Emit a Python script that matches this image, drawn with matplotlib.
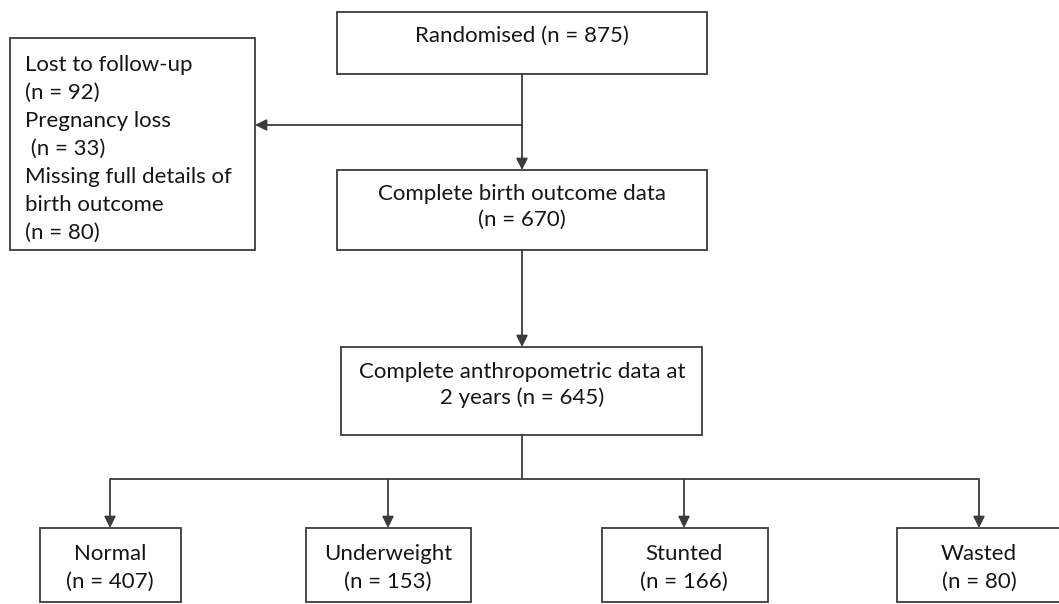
import matplotlib
matplotlib.use('Agg')
import matplotlib.pyplot as plt
from matplotlib.patches import Rectangle

# ── Data ──────────────────────────────────────────────────────────────────────
stage_labels = ['Randomised', 'Complete birth outcome data',
                'Complete anthropometric data at\n2 years']
stage_n = [875, 670, 645]

excluded_labels = ['Lost to follow-up', 'Pregnancy loss',
                   'Missing full details of\nbirth outcome']
excluded_n = [92, 33, 80]

outcome_labels = ['Normal', 'Underweight', 'Stunted', 'Wasted']
outcome_n = [407, 153, 166, 80]

# ── Style ─────────────────────────────────────────────────────────────────────
W, H = 1059, 604
DPI = 100
LINE = '#3c3c3c'
TEXT = '#161616'
FONT = 'Lato'
FS = 16

fig = plt.figure(figsize=(W / DPI, H / DPI), dpi=DPI)
ax = fig.add_axes([0, 0, 1, 1])
ax.set_xlim(0, W)
ax.set_ylim(H, 0)
ax.axis('off')


def box(x0, y0, x1, y1):
    ax.add_patch(Rectangle((x0, y0), x1 - x0, y1 - y0, fill=False,
                           ec=LINE, lw=1.3))


def line(xs, ys):
    ax.plot(xs, ys, color=LINE, lw=1.3, solid_capstyle='butt')


def arrow(x0, y0, x1, y1):
    ax.annotate('', xy=(x1, y1), xytext=(x0, y0),
                arrowprops=dict(arrowstyle='-|>', color=LINE, lw=1.3,
                                mutation_scale=17, shrinkA=0, shrinkB=0))


def txt(x, y, s, ha='center', ls=1.4):
    ax.text(x, y, s, ha=ha, va='center', fontsize=FS, color=TEXT,
            family=FONT, linespacing=ls)


# main column
CX = 522
main_boxes = [(337, 12, 707, 74), (337, 170, 707, 250), (341, 347, 702, 435)]
for (x0, y0, x1, y1) in main_boxes:
    box(x0, y0, x1, y1)

txt(CX, 36, f'{stage_labels[0]} (n = {stage_n[0]})')
txt(CX, 207, f'{stage_labels[1]}\n(n = {stage_n[1]})', ls=1.4)
txt(CX, 385, f'{stage_labels[2]} (n = {stage_n[2]})', ls=1.35)

arrow(CX, 74, CX, 170)
arrow(CX, 250, CX, 347)

# excluded box
box(10, 38, 255, 250)
arrow(CX, 125, 255, 125)
excl_text = (f'{excluded_labels[0]}\n(n = {excluded_n[0]})\n'
             f'{excluded_labels[1]}\n (n = {excluded_n[1]})\n'
             f'{excluded_labels[2]}\n(n = {excluded_n[2]})')
ax.text(25, 149, excl_text, ha='left', va='center', fontsize=FS, color=TEXT,
        family=FONT, linespacing=1.5)

# outcome branches
out_x = [110, 388, 684, 979]
out_boxes = [(40, 181), (306, 471), (602, 768), (897, 1060)]
line([CX, CX], [435, 479])
line([out_x[0], out_x[-1]], [479, 479])
for xc, (x0, x1), lab, n in zip(out_x, out_boxes, outcome_labels, outcome_n):
    arrow(xc, 479, xc, 528)
    box(x0, 528, x1, 602)
    txt(xc, 568, f'{lab}\n(n = {n})', ls=1.5)

plt.savefig('out.png', dpi=DPI, facecolor='white')
plt.close()
